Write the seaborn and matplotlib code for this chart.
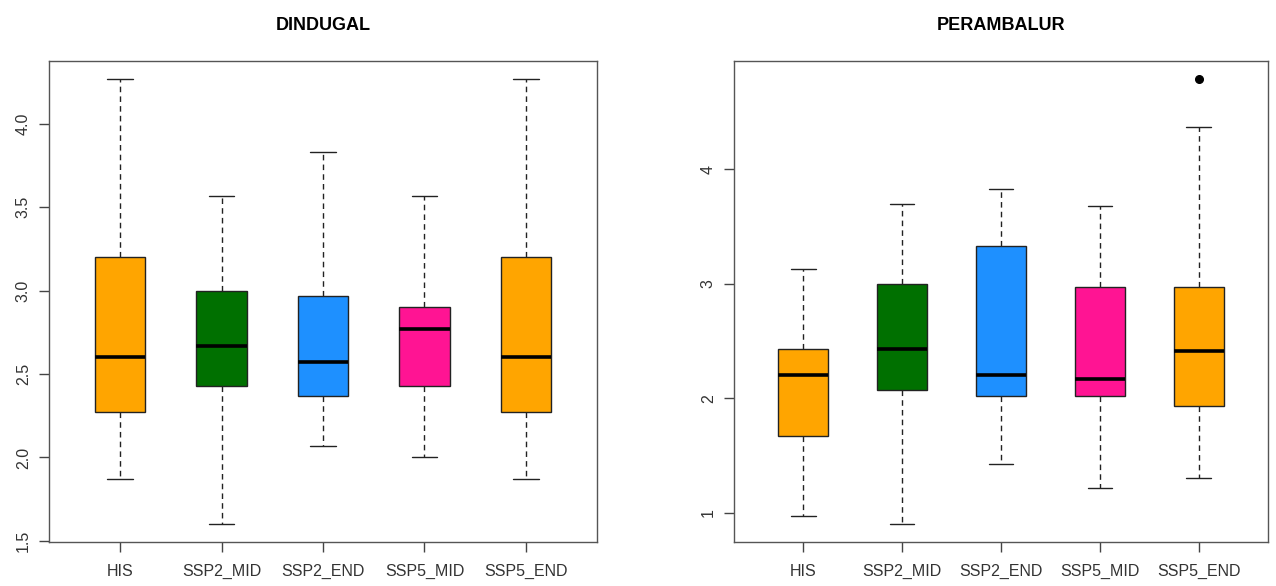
import matplotlib
matplotlib.use("Agg")
import matplotlib.pyplot as plt
import seaborn as sns

# scenario names and box colours
scenarios = ["HIS", "SSP2_MID", "SSP2_END", "SSP5_MID", "SSP5_END"]
box_colors = ["#FFA500", "#007000", "#1E90FF", "#FF1493", "#FFA500"]

# DINDUGAL five-number summaries
dindugal_low = [1.87, 1.60, 2.07, 2.00, 1.87]
dindugal_q1 = [2.27, 2.43, 2.37, 2.43, 2.27]
dindugal_med = [2.60, 2.67, 2.57, 2.77, 2.60]
dindugal_q3 = [3.20, 3.00, 2.97, 2.90, 3.20]
dindugal_high = [4.27, 3.57, 3.83, 3.57, 4.27]
dindugal_out = [[], [], [], [], []]

# PERAMBALUR five-number summaries
perambalur_low = [0.97, 0.90, 1.43, 1.22, 1.30]
perambalur_q1 = [1.67, 2.07, 2.02, 2.02, 1.93]
perambalur_med = [2.20, 2.43, 2.20, 2.17, 2.41]
perambalur_q3 = [2.43, 3.00, 3.33, 2.97, 2.97]
perambalur_high = [3.13, 3.70, 3.83, 3.68, 4.37]
perambalur_out = [[], [], [], [], [4.79]]

dindugal_ticks = [1.5, 2.0, 2.5, 3.0, 3.5, 4.0]
perambalur_ticks = [1, 2, 3, 4]


def make_stats(low, q1, med, q3, high, out):
    stats = []
    for i in range(len(scenarios)):
        stats.append({
            "label": scenarios[i],
            "whislo": low[i], "q1": q1[i], "med": med[i],
            "q3": q3[i], "whishi": high[i], "fliers": out[i],
        })
    return stats


def r_limits(values):
    # R pads the data range by 4% on each side
    lo, hi = min(values), max(values)
    pad = (hi - lo) * 0.04
    return lo - pad, hi + pad


def draw_panel(ax, title, stats, ticks, tick_fmt):
    bp = ax.bxp(
        stats, positions=range(1, len(stats) + 1), widths=0.5,
        patch_artist=True, showfliers=True,
        boxprops=dict(edgecolor="#222222", linewidth=1.0),
        medianprops=dict(color="black", linewidth=2.6),
        whiskerprops=dict(color="#222222", linewidth=1.0, linestyle=(0, (4, 3))),
        capprops=dict(color="#222222", linewidth=1.0),
        flierprops=dict(marker="o", markerfacecolor="black",
                        markeredgecolor="black", markersize=5.5),
        capwidths=0.25,
    )
    for patch, c in zip(bp["boxes"], box_colors):
        patch.set_facecolor(c)

    allvals = []
    for s in stats:
        allvals += [s["whislo"], s["whishi"]] + list(s["fliers"])
    ax.set_ylim(*r_limits(allvals))
    ax.set_xlim(0.3, len(stats) + 0.7)

    ax.set_yticks(ticks)
    ax.set_yticklabels([tick_fmt.format(t) for t in ticks], rotation=90, va="center")
    ax.set_xticks(range(1, len(stats) + 1))
    ax.set_xticklabels(scenarios)
    ax.tick_params(axis="both", direction="out", length=7, width=1.0,
                   bottom=True, left=True,
                   color="#444444", labelcolor="#333333", labelsize=11.5)
    ax.tick_params(axis="x", pad=9)
    ax.tick_params(axis="y", pad=6)
    for sp in ax.spines.values():
        sp.set_color("#555555")
        sp.set_linewidth(1.0)
    ax.grid(False)
    ax.set_title(title, fontsize=13, fontweight="bold", color="black", pad=22)


sns.set_theme(style="white")
plt.rcParams["font.family"] = ["Liberation Sans", "DejaVu Sans"]

fig = plt.figure(figsize=(12.76, 5.86), dpi=100)
ax1 = fig.add_axes([49 / 1276, 44 / 586, 548 / 1276, 481 / 586])
ax2 = fig.add_axes([734 / 1276, 44 / 586, 534 / 1276, 481 / 586])

draw_panel(ax1, "DINDUGAL",
           make_stats(dindugal_low, dindugal_q1, dindugal_med, dindugal_q3,
                      dindugal_high, dindugal_out),
           dindugal_ticks, "{:.1f}")
draw_panel(ax2, "PERAMBALUR",
           make_stats(perambalur_low, perambalur_q1, perambalur_med, perambalur_q3,
                      perambalur_high, perambalur_out),
           perambalur_ticks, "{:d}")

fig.savefig("out.png", dpi=100)
